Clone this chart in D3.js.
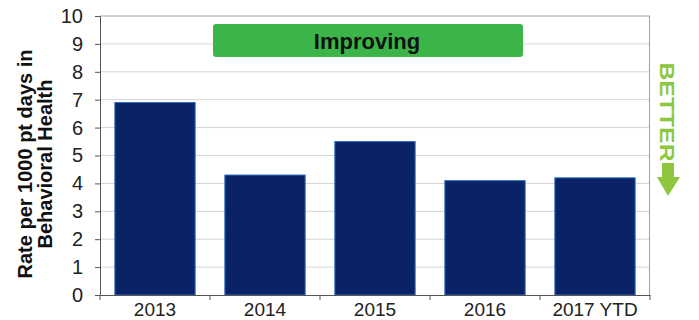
<!DOCTYPE html>
<html><head><meta charset="utf-8">
<script src="https://cdn.jsdelivr.net/npm/d3@7"></script>
<style>body{margin:0;background:#fff;} text{font-family:"Liberation Sans",Arial,sans-serif;}</style>
</head><body>
<svg id="c" width="699" height="320"></svg>
<script>
const categories = ["2013","2014","2015","2016","2017 YTD"];
const values = [6.9, 4.3, 5.5, 4.1, 4.2];
const yTicks = [0,1,2,3,4,5,6,7,8,9,10];
const yTitle = ["Rate per 1000 pt days in","Behavioral Health"];
const bannerText = "Improving";
const betterText = "BETTER";

const svg = d3.select("#c");
const m = {l:100, r:650, t:16, b:295};
const x = d3.scaleBand().domain(categories).range([m.l, m.r]).paddingInner(0.27).paddingOuter(0.135);
const y = d3.scaleLinear().domain([0,10]).range([m.b, m.t]);

// gridlines
svg.append("g").selectAll("line").data(yTicks.filter(d=>d>0)).join("line")
  .attr("x1", m.l).attr("x2", m.r).attr("y1", d=>y(d)).attr("y2", d=>y(d))
  .attr("stroke", d=>d===10?"#a0a0a0":"#d4d4d4").attr("stroke-width",1);
// right border
svg.append("line").attr("x1",m.r-0.5).attr("x2",m.r-0.5).attr("y1",m.t).attr("y2",m.b)
  .attr("stroke","#a0a0a0");

// bars
svg.append("g").selectAll("rect").data(values).join("rect")
  .attr("x",(d,i)=>x(categories[i])).attr("width",x.bandwidth())
  .attr("y",d=>y(d)).attr("height",d=>m.b-y(d))
  .attr("fill","#0a2366").attr("stroke","#2f6fbf").attr("stroke-width",1);

// y axis
const ya = svg.append("g").attr("transform",`translate(${m.l},0)`)
  .call(d3.axisLeft(y).tickValues(yTicks).tickSize(5).tickPadding(12));
ya.selectAll("text").attr("font-size",20).attr("fill","#222").attr("font-family","Liberation Sans, Arial, sans-serif");
ya.selectAll("line,path").attr("stroke","#555");

// x axis
const xa = svg.append("g").attr("transform",`translate(0,${m.b})`)
  .call(d3.axisBottom(x).tickSize(0).tickPadding(8));
xa.selectAll("text").attr("font-size",19).attr("fill","#222").attr("font-family","Liberation Sans, Arial, sans-serif");
xa.select("path").attr("stroke","#555");
svg.append("g").selectAll("line").data(d3.range(categories.length+1)).join("line")
  .attr("x1",i=>m.l+i*x.step()).attr("x2",i=>m.l+i*x.step())
  .attr("y1",m.b).attr("y2",m.b+5).attr("stroke","#555");

// y title
const yt = svg.append("text").attr("transform","translate(32,164) rotate(-90)")
  .attr("text-anchor","middle").attr("font-weight","bold").attr("font-size",20).attr("fill","#111");
yt.selectAll("tspan").data(yTitle).join("tspan").attr("x",0).attr("dy",(d,i)=>i===0?0:20).text(d=>d);

// banner
svg.append("rect").attr("x",213).attr("y",24).attr("width",310).attr("height",33).attr("rx",3)
  .attr("fill","#3bb54a");
svg.append("text").attr("x",367).attr("y",48.5).attr("text-anchor","middle")
  .attr("font-weight","bold").attr("font-size",22).attr("fill","#111").text(bannerText);

// BETTER
svg.append("text").attr("transform","translate(660,112) rotate(90)")
  .attr("text-anchor","middle").attr("font-weight","bold").attr("font-size",20).attr("fill","#8dc63f")
  .attr("textLength",99).attr("lengthAdjust","spacingAndGlyphs")
  .text(betterText);
svg.append("path").attr("d","M662,163 L674,163 L674,177 L680,177 L668,196 L657,177 L662,177 Z")
  .attr("fill","#8dc63f");
</script>
</body></html>
